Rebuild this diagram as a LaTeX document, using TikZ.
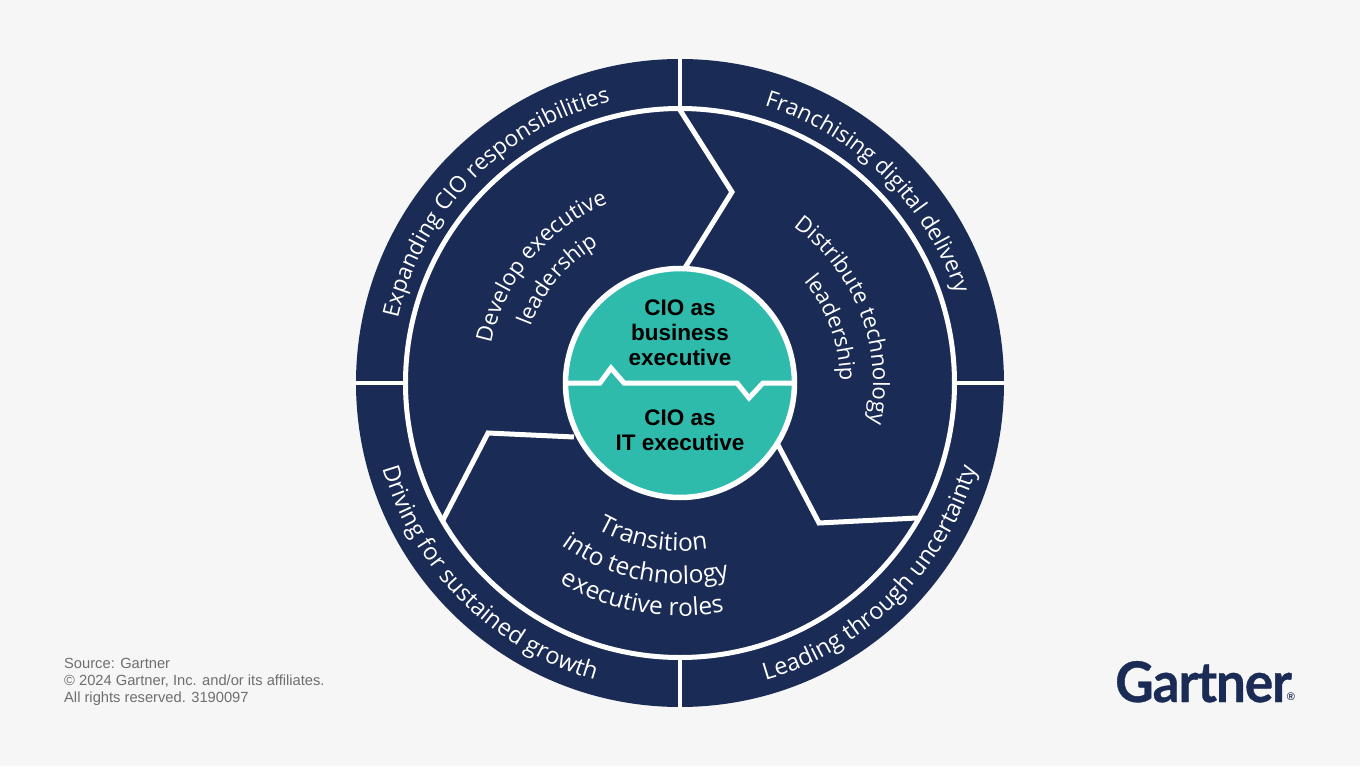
\documentclass[tikz,border=0pt]{standalone}
\usepackage{fontspec}
\setmainfont{Liberation Sans}
\newfontfamily\arcfont{Open Sans}
\newfontfamily\logofont[FakeStretch=0.95,LetterSpace=-2,FakeBold=0.6]{Lato}
\usetikzlibrary{decorations.text}
\definecolor{bgc}{HTML}{F6F6F6}
\definecolor{navyc}{HTML}{1A2B55}
\definecolor{tealc}{HTML}{2EBBAB}
\definecolor{grayc}{HTML}{6E6E6E}
\newcommand{\arcsize}[1]{\arcfont\fontsize{#1}{#1}\selectfont\color{white}}
\tikzset{
  sep/.style={draw=white,line width=4pt,line cap=butt},
  zig/.style={draw=white,line width=5pt,miter limit=10},
  core/.style={circle,draw=white,fill=tealc,line width=5.5pt,minimum size=229pt,inner sep=0pt},
  corelabel/.style={align=center,font=\fontsize{22.5}{25}\selectfont\bfseries,text=black,inner sep=0pt},
  arctext/.style={decorate,decoration={text along path,text align=center,text={#1}}},
}
\begin{document}
\begin{tikzpicture}[x=1pt,y=1pt]
\useasboundingbox (-680,-383) rectangle (680,383);
\fill[bgc] (-680,-383) rectangle (680,383);
\fill[navyc] (0,0) circle[radius=324];
\draw[draw=white,line width=5pt] (0,0) circle[radius=274.5];
% separators
\coordinate (topA) at (0,324.5); \coordinate (topB) at (0,274);
\coordinate (botA) at (0,-324.5); \coordinate (botB) at (0,-274);
\coordinate (lefA) at (-324.5,0); \coordinate (lefB) at (-274,0);
\coordinate (rigA) at (324.5,0); \coordinate (rigB) at (274,0);
\draw[sep] (topA) -- (topB);
\draw[sep] (botA) -- (botB);
\draw[sep] (lefA) -- (lefB);
\draw[sep] (rigA) -- (rigB);
% zigzag borders
\coordinate (z1a) at (0,273); \coordinate (z1b) at (52,191); \coordinate (z1c) at (3,112);
\coordinate (z2a) at (-106,-54); \coordinate (z2b) at (-192,-50); \coordinate (z2c) at (-237,-137);
\coordinate (z3a) at (97,-60); \coordinate (z3b) at (139,-140); \coordinate (z3c) at (237,-135);
\draw[zig] (z1a) -- (z1b) -- (z1c);
\draw[zig] (z2a) -- (z2b) -- (z2c);
\draw[zig] (z3a) -- (z3b) -- (z3c);
% core
\node[core] (core) at (0,0) {};
\coordinate (d0) at (-114,0); \coordinate (d1) at (-80,0); \coordinate (d2) at (-69,15);
\coordinate (d3) at (-56,0); \coordinate (d4) at (57,0); \coordinate (d5) at (69,-15);
\coordinate (d6) at (83,0); \coordinate (d7) at (114,0);
\draw[zig] (d0) -- (d1) -- (d2) -- (d3) -- (d4) -- (d5) -- (d6) -- (d7);
\node[corelabel] (biz) at (0,50) {CIO as\\business\\executive};
\node[corelabel] (itx) at (0,-47) {CIO as\\IT executive};
% outer band labels
\path[arctext={|\arcsize{22.6}|Expanding CIO responsibilities}] (172.5:289.5) arc[start angle=172.5,end angle=98.5,radius=289.5];
\path[arctext={|\arcsize{22.6}|Franchising digital delivery}] (80:289.5) arc[start angle=80,end angle=11,radius=289.5];
\path[arctext={|\arcsize{23.6}|Driving for sustained growth}] (190:309) arc[start angle=190,end angle=260,radius=309];
\path[arctext={|\arcsize{23.6}|Leading through uncertainty}] (280:309) arc[start angle=280,end angle=350,radius=309];
% inner labels
\path[arctext={|\arcsize{22.3}|Develop executive}] (178:193) arc[start angle=178,end angle=102,radius=193];
\path[arctext={|\arcsize{22}|leadership}] (170:160) arc[start angle=170,end angle=110,radius=160];
\path[arctext={|\arcsize{22.3}|Distribute technology}] (60:193) arc[start angle=60,end angle=-18,radius=193];
\path[arctext={|\arcsize{22}|leadership}] (50:160) arc[start angle=50,end angle=-10,radius=160];
\path[arctext={|\arcsize{24.5}|Transition}] (230:168) arc[start angle=230,end angle=290,radius=168];
\path[arctext={|\arcsize{24.5}|into technology}] (225:201) arc[start angle=225,end angle=293,radius=201];
\path[arctext={|\arcsize{24.5}|executive roles}] (230:233) arc[start angle=230,end angle=290,radius=233];
% source
\node[anchor=north west,align=left,inner sep=0pt,text=grayc,font=\fontsize{14.7}{17}\selectfont] (source) at (-616,-275) {Source: Gartner\\© 2024 Gartner, Inc. and/or its affiliates.\\All rights reserved. 3190097};
% logo
\node[anchor=base west,inner sep=0pt,text=navyc,font=\logofont\bfseries\fontsize{56}{56}\selectfont] (logo) at (435,-319) {Gartner};
\node[anchor=center,inner sep=0pt,text=navyc,font=\fontsize{11}{11}\selectfont\bfseries] (reg) at (611,-314) {®};
\end{tikzpicture}
\end{document}
